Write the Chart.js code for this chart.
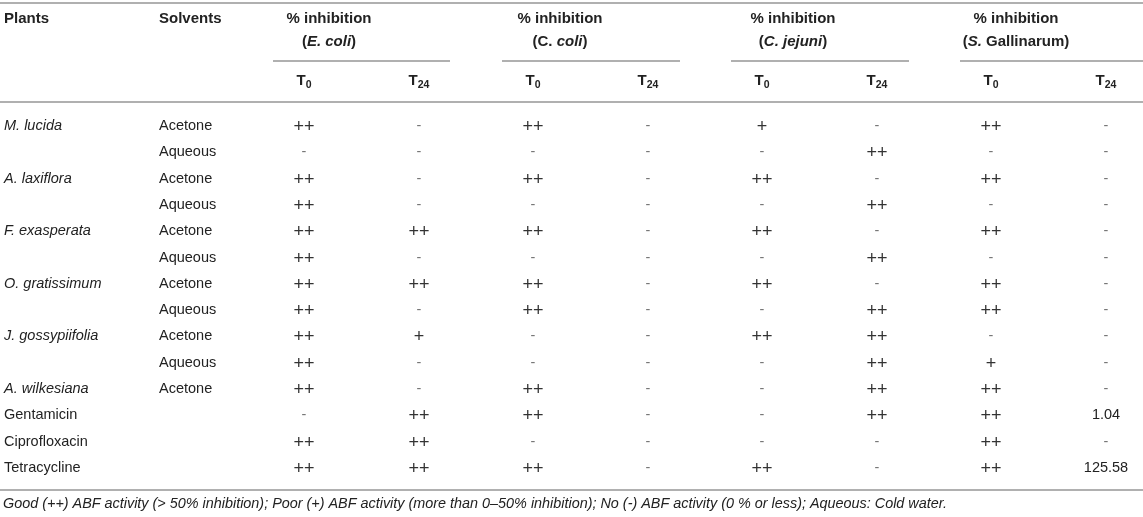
<!DOCTYPE html>
<html>
<head>
<meta charset="utf-8">
<script src="https://cdn.jsdelivr.net/npm/chart.js@4"></script>
<style>
  html, body { margin: 0; padding: 0; background: #fff; }
  #table { display: block; }
</style>
</head>
<body>
<canvas id="table" width="1143" height="517"></canvas>
<script>
// Table data
const plants = ['M. lucida', '', 'A. laxiflora', '', 'F. exasperata', '', 'O. gratissimum', '', 'J. gossypiifolia', '', 'A. wilkesiana', 'Gentamicin', 'Ciprofloxacin', 'Tetracycline'];
const italicPlant = [true, false, true, false, true, false, true, false, true, false, true, false, false, false];
const solvents = ['Acetone', 'Aqueous', 'Acetone', 'Aqueous', 'Acetone', 'Aqueous', 'Acetone', 'Aqueous', 'Acetone', 'Aqueous', 'Acetone', '', '', ''];
const ecoliT0    = ['++', '-', '++', '++', '++', '++', '++', '++', '++', '++', '++', '-', '++', '++'];
const ecoliT24   = ['-', '-', '-', '-', '++', '-', '++', '-', '+', '-', '-', '++', '++', '++'];
const ccoliT0    = ['++', '-', '++', '-', '++', '-', '++', '++', '-', '-', '++', '++', '-', '++'];
const ccoliT24   = ['-', '-', '-', '-', '-', '-', '-', '-', '-', '-', '-', '-', '-', '-'];
const cjejuniT0  = ['+', '-', '++', '-', '++', '-', '++', '-', '++', '-', '-', '-', '-', '++'];
const cjejuniT24 = ['-', '++', '-', '++', '-', '++', '-', '++', '++', '++', '++', '++', '-', '-'];
const sgallT0    = ['++', '-', '++', '-', '++', '-', '++', '++', '-', '+', '++', '++', '++', '++'];
const sgallT24   = ['-', '-', '-', '-', '-', '-', '-', '-', '-', '-', '-', '1.04', '-', '125.58'];
const groups = ['E. coli', 'C. coli', 'C. jejuni', 'S. Gallinarum'];
const timeLabels = ['0', '24'];
const footnote = 'Good (++) ABF activity (> 50% inhibition); Poor (+) ABF activity (more than 0–50% inhibition); No (-) ABF activity (0 % or less); Aqueous: Cold water.';

// Layout (x-scale units)
const colX = [304, 419, 533, 648, 762, 877, 991, 1106];
const groupX = [329, 560, 793, 1016];
const groupRule = [[273, 450], [502, 680], [731, 909], [960, 1143]];
const FONT = '"Liberation Sans", Arial, Helvetica, sans-serif';
const INK = '#222';
const RULE = '#b0b0b0';

const valueCols = [ecoliT0, ecoliT24, ccoliT0, ccoliT24, cjejuniT0, cjejuniT24, sgallT0, sgallT24];
const rowIdx = plants.map((_, i) => i);

const datasets = [
  { label: 'Plants', texts: plants, align: 'left', data: rowIdx.map(i => ({ x: 4, y: i })) },
  { label: 'Solvents', texts: solvents, align: 'left', data: rowIdx.map(i => ({ x: 159, y: i })) }
].concat(valueCols.map((col, c) => ({
  label: 'col' + c, texts: col, align: 'center',
  data: rowIdx.map(i => ({ x: colX[c], y: i }))
})));
datasets.forEach(d => { d.pointRadius = 0; d.showLine = false; });

// mixed style text: parts = [[text, bold, italic], ...]
function drawParts(ctx, parts, x, y, size, align) {
  const font = p => (p[2] ? 'italic ' : '') + (p[1] ? 'bold ' : '') + size + 'px ' + FONT;
  let w = 0;
  parts.forEach(p => { ctx.font = font(p); w += ctx.measureText(p[0]).width; });
  let cx = align === 'center' ? x - w / 2 : x;
  ctx.textAlign = 'left';
  parts.forEach(p => { ctx.font = font(p); ctx.fillText(p[0], cx, y); cx += ctx.measureText(p[0]).width; });
}

const groupParts = [
  [['(', 1, 0], ['E. coli', 1, 1], [')', 1, 0]],
  [['(C. ', 1, 0], ['coli', 1, 1], [')', 1, 0]],
  [['(', 1, 0], ['C. jejuni', 1, 1], [')', 1, 0]],
  [['(', 1, 0], ['S.', 1, 1], [' Gallinarum)', 1, 0]]
];

const tablePlugin = {
  id: 'tableText',
  afterDatasetsDraw(chart) {
    const ctx = chart.ctx;
    const xs = chart.scales.x;
    const W = chart.width;
    ctx.save();
    ctx.textBaseline = 'middle';
    ctx.fillStyle = INK;

    // rules
    ctx.strokeStyle = RULE;
    ctx.lineWidth = 2;
    const hline = (x1, x2, y) => { ctx.beginPath(); ctx.moveTo(x1, y); ctx.lineTo(x2, y); ctx.stroke(); };
    hline(0, W, 3);
    hline(0, W, 102);
    hline(0, W, 490);
    groupRule.forEach(r => hline(xs.getPixelForValue(r[0]), xs.getPixelForValue(r[1]), 61));

    // header
    ctx.font = 'bold 15px ' + FONT;
    ctx.textAlign = 'left';
    ctx.fillText('Plants', xs.getPixelForValue(4), 19);
    ctx.fillText('Solvents', xs.getPixelForValue(159), 19);
    groups.forEach((g, k) => {
      const cx = xs.getPixelForValue(groupX[k]);
      drawParts(ctx, [['% inhibition', 1, 0]], cx, 19, 15, 'center');
      drawParts(ctx, groupParts[k], cx, 42, 15, 'center');
    });
    colX.forEach((x, c) => {
      const px = xs.getPixelForValue(x);
      const sub = timeLabels[c % 2];
      ctx.font = 'bold 15px ' + FONT;
      const tw = ctx.measureText('T').width;
      ctx.font = 'bold 10.5px ' + FONT;
      const sw = ctx.measureText(sub).width;
      const left = px - (tw + sw) / 2;
      ctx.textAlign = 'left';
      ctx.font = 'bold 15px ' + FONT;
      ctx.fillText('T', left, 81);
      ctx.font = 'bold 10.5px ' + FONT;
      ctx.fillText(sub, left + tw, 85);
    });

    // body cells
    chart.data.datasets.forEach((ds, di) => {
      const meta = chart.getDatasetMeta(di);
      meta.data.forEach((pt, i) => {
        const t = ds.texts[i];
        if (!t) return;
        const it = di === 0 && italicPlant[i];
        ctx.textAlign = ds.align;
        if (t[0] === '+') {
          ctx.font = '18px ' + FONT;
          ctx.fillStyle = '#333';
          ctx.fillText(t, pt.x, pt.y + 1);
        } else if (t === '-') {
          ctx.font = '14.5px ' + FONT;
          ctx.fillStyle = '#777';
          ctx.fillText(t, pt.x, pt.y);
        } else {
          ctx.font = (it ? 'italic ' : '') + '14.5px ' + FONT;
          ctx.fillStyle = INK;
          ctx.fillText(t, pt.x, pt.y);
        }
      });
    });

    // footnote
    ctx.fillStyle = INK;
    ctx.font = 'italic 14.4px ' + FONT;
    ctx.textAlign = 'left';
    ctx.fillText(footnote, 3, 504);
    ctx.restore();
  }
};

const chart = new Chart(document.getElementById('table').getContext('2d'), {
  type: 'scatter',
  data: { datasets: datasets },
  options: {
    responsive: false,
    animation: false,
    devicePixelRatio: 1,
    layout: { padding: { top: 113, bottom: 36, left: 0, right: 0 } },
    plugins: { legend: { display: false }, tooltip: { enabled: false } },
    scales: {
      x: { type: 'linear', min: 0, max: 1143, display: false },
      y: { type: 'linear', min: -0.5, max: 13.5, reverse: true, display: false }
    }
  },
  plugins: [tablePlugin]
});
</script>
</body>
</html>
